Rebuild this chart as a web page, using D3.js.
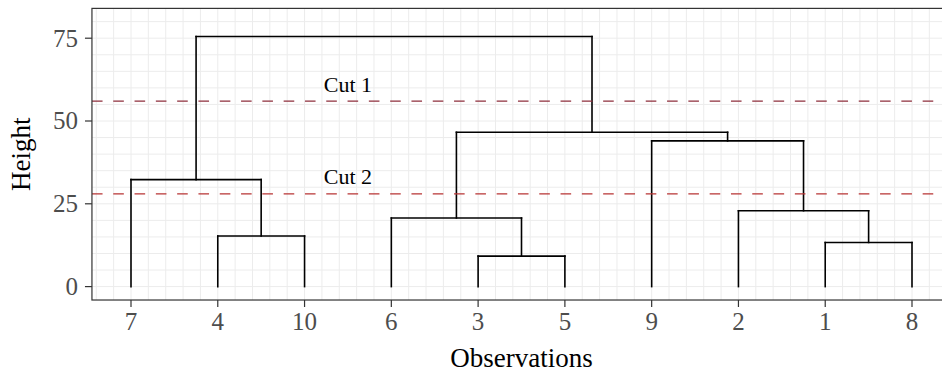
<!DOCTYPE html>
<html>
<head>
<meta charset="utf-8">
<script src="https://cdn.jsdelivr.net/npm/d3@7"></script>
<style>
  html, body { margin: 0; padding: 0; background: #fff; }
  svg { display: block; }
  text { font-family: "Liberation Serif", "DejaVu Serif", serif; }
</style>
</head>
<body>
<svg id="chart" width="942" height="374"></svg>
<script>
// ---- data ----
const leafOrder = ["7", "4", "10", "6", "3", "5", "9", "2", "1", "8"];
// merges: [childA, childB, height]; "m<i>" refers to the i-th merge
const merges = [
  ["4", "10", 15.3],
  ["3", "5", 9.2],
  ["1", "8", 13.3],
  ["6", "m1", 20.7],
  ["2", "m2", 22.9],
  ["7", "m0", 32.3],
  ["9", "m4", 44.0],
  ["m3", "m6", 46.6],
  ["m5", "m7", 75.5]
];
const cutHeights = [56, 28];
const cutLabels = ["Cut 1", "Cut 2"];
const yTicks = [0, 25, 50, 75];
const xTitle = "Observations";
const yTitle = "Height";

// ---- layout ----
const svg = d3.select("#chart");
const x = d3.scaleLinear().domain([1, 10]).range([131, 912]);
const y = d3.scaleLinear().domain([0, 75]).range([286.6, 38.2]);
const xLo = 0.55, xHi = 10.45, yLo = -4.05, yHi = 84.0;
const pL = x(xLo), pR = x(xHi), pT = y(yHi), pB = y(yLo);

svg.append("defs").append("clipPath").attr("id", "clip")
  .append("rect").attr("x", pL).attr("y", pT).attr("width", pR - pL).attr("height", pB - pT);

svg.append("rect").attr("x", pL).attr("y", pT).attr("width", pR - pL).attr("height", pB - pT)
  .attr("fill", "#fff");

// grid
const grid = svg.append("g").attr("clip-path", "url(#clip)");
const xGrid = d3.range(0, 60).map(i => 0.6 + i * 0.2).filter(v => v > xLo && v < xHi);
const yGrid = d3.range(0, 17).map(i => i * 5);
grid.selectAll(".gx").data(xGrid).join("line")
  .attr("x1", d => x(d)).attr("x2", d => x(d)).attr("y1", pT).attr("y2", pB)
  .attr("stroke", "#ececec").attr("stroke-width", 1);
grid.selectAll(".gy").data(yGrid).join("line")
  .attr("x1", pL).attr("x2", pR).attr("y1", d => y(d)).attr("y2", d => y(d))
  .attr("stroke", "#ececec").attr("stroke-width", 1);

// dendrogram
const pos = {}, hgt = {};
leafOrder.forEach((l, i) => { pos[l] = i + 1; hgt[l] = 0; });
const segs = [];
merges.forEach((m, i) => {
  const [a, b, h] = m;
  const id = "m" + i;
  pos[id] = (pos[a] + pos[b]) / 2;
  hgt[id] = h;
  segs.push([pos[a], hgt[a], pos[a], h]);
  segs.push([pos[b], hgt[b], pos[b], h]);
  segs.push([pos[a], h, pos[b], h]);
});
const dend = svg.append("g").attr("clip-path", "url(#clip)");
dend.selectAll("path").data(segs).join("path")
  .attr("d", d => `M${x(d[0])},${y(d[1])}L${x(d[2])},${y(d[3])}`)
  .attr("stroke", "#000").attr("stroke-width", 1.6).attr("fill", "none")
  .attr("stroke-linecap", "square");

// cut lines
const cuts = svg.append("g").attr("clip-path", "url(#clip)");
cuts.selectAll("line").data(cutHeights).join("line")
  .attr("x1", pL).attr("x2", pR).attr("y1", d => y(d)).attr("y2", d => y(d))
  .attr("stroke", (d, i) => i === 0 ? "#8e2f3c" : "#b83535").attr("stroke-width", 1.2)
  .attr("stroke-dasharray", "10.6,10.7");
svg.selectAll(".cutlab").data(cutHeights).join("text")
  .attr("x", x(3.5)).attr("y", d => y(d) - 9.5)
  .attr("text-anchor", "middle").attr("font-size", 22).attr("fill", "#000")
  .text((d, i) => cutLabels[i]);

// panel border
svg.append("rect").attr("x", pL).attr("y", pT).attr("width", pR - pL).attr("height", pB - pT)
  .attr("fill", "none").attr("stroke", "#333").attr("stroke-width", 1.2);

// y axis
svg.selectAll(".yt").data(yTicks).join("line")
  .attr("x1", pL - 7).attr("x2", pL).attr("y1", d => y(d)).attr("y2", d => y(d))
  .attr("stroke", "#333").attr("stroke-width", 1.2);
svg.selectAll(".yl").data(yTicks).join("text")
  .attr("x", pL - 14).attr("y", d => y(d) + 8.3)
  .attr("text-anchor", "end").attr("font-size", 25).attr("fill", "#4d4d4d")
  .text(d => d);

// x axis
svg.selectAll(".xt").data(leafOrder).join("line")
  .attr("x1", (d, i) => x(i + 1)).attr("x2", (d, i) => x(i + 1)).attr("y1", pB).attr("y2", pB + 7)
  .attr("stroke", "#333").attr("stroke-width", 1.2);
svg.selectAll(".xl").data(leafOrder).join("text")
  .attr("x", (d, i) => x(i + 1)).attr("y", 330)
  .attr("text-anchor", "middle").attr("font-size", 25).attr("fill", "#4d4d4d")
  .text(d => d);

// titles
svg.append("text").attr("x", (pL + pR) / 2).attr("y", 367)
  .attr("text-anchor", "middle").attr("font-size", 27).attr("fill", "#000").text(xTitle);
svg.append("text").attr("transform", `translate(30,${(pT + pB) / 2}) rotate(-90)`)
  .attr("text-anchor", "middle").attr("font-size", 27).attr("fill", "#000").text(yTitle);
</script>
</body>
</html>
